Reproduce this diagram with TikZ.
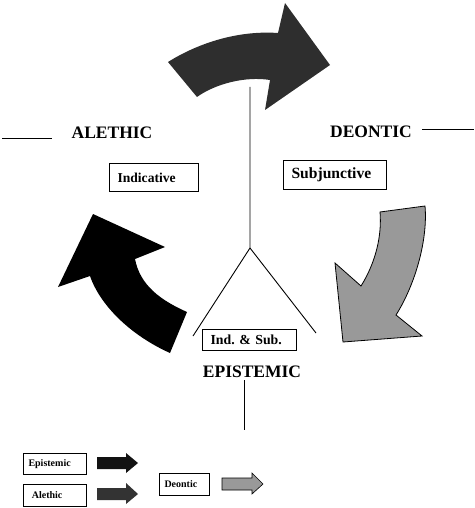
\documentclass[tikz,border=0pt]{standalone}
\usepackage{fontspec}
\setmainfont{Liberation Serif}
\frenchspacing
\begin{document}
\begin{tikzpicture}[x=1pt,y=-1pt,
    modal/.style={font=\fontsize{17.5}{20}\selectfont\bfseries},
    moodbox/.style={draw,line width=1.1pt,inner xsep=8pt,inner ysep=0pt,anchor=north west,align=left},
    keybox/.style={draw,line width=1pt,inner xsep=5pt,inner ysep=0pt,anchor=north west,align=left,font=\fontsize{10}{12}\selectfont\bfseries}]
	\useasboundingbox (0,0) rectangle (474,508);
	% the three curved arrows
	\fill [black!82] (168,62) .. controls (195,45) and (235,30) .. (278,33) -- (285,3) -- (330,65) -- (265,110) -- (270,80) .. controls (245,76) and (215,84) .. (197,97) -- cycle;
	\fill [black] (93,214) -- (165,247) -- (135,259) .. controls (140,285) and (160,300) .. (187,312) -- (170,353) .. controls (130,335) and (100,305) .. (90,276) -- (58,287) -- cycle;
	\filldraw [fill=black!40,draw=black,line width=0.8pt] (380,212) -- (425,206) .. controls (428,240) and (415,285) .. (396,315) -- (422,336) -- (343,342) -- (335,263) -- (361,286) .. controls (376,262) and (382,235) .. (380,212) -- cycle;
	% labels
	\node [modal] (alethic) at (112,133) {ALETHIC};
	\node [modal] (deontic) at (371,132) {DEONTIC};
	\node [modal] (epistemic) at (252,372) {EPISTEMIC};
	\node [moodbox,text width=73pt,minimum height=28pt,font=\fontsize{13.6}{15}\selectfont\bfseries] (indic) at (109,163) {Indicative};
	\node [moodbox,text width=87pt,minimum height=29pt,font=\fontsize{15.6}{17}\selectfont\bfseries] (subj) at (283,160) {Subjunctive};
	\node [moodbox,text width=78pt,minimum height=21pt,font=\fontsize{13.8}{15}\selectfont\bfseries] (indsub) at (202,329) {Ind. \& Sub.};
	% lines
	\coordinate (stem) at (250,87);
	\coordinate (fork) at (250,248);
	\coordinate (forkL) at (193,336);
	\coordinate (forkR) at (316,333);
	\draw [line width=0.9pt] (stem) -- (fork) -- (forkL);
	\draw [line width=0.9pt] (fork) -- (forkR);
	\draw [line width=0.9pt] (2,138) -- (52,138);
	\draw [line width=0.9pt] (422,129) -- (474,129);
	\draw [line width=0.9pt] (244,380) -- (244,430);
	% key
	\node [keybox,text width=53pt,minimum height=21pt] (keyE) at (23,453) {Epistemic};
	\node [keybox,text width=53pt,minimum height=22pt] (keyA) at (23,484) {~Alethic};
	\node [keybox,text width=40pt,minimum height=22pt] (keyD) at (159,473) {Deontic};
	\fill [black!93] (97,457) -- (126,457) -- (126,453) -- (138,463) -- (126,473) -- (126,469) -- (97,469) -- cycle;
	\fill [black!80] (97,488) -- (126,488) -- (126,483) -- (138,494) -- (126,504) -- (126,500) -- (97,500) -- cycle;
	\filldraw [fill=black!40,draw=black,line width=0.6pt] (222,478) -- (252,478) -- (252,473) -- (263,484) -- (252,494) -- (252,490) -- (222,490) -- cycle;
\end{tikzpicture}
\end{document}
